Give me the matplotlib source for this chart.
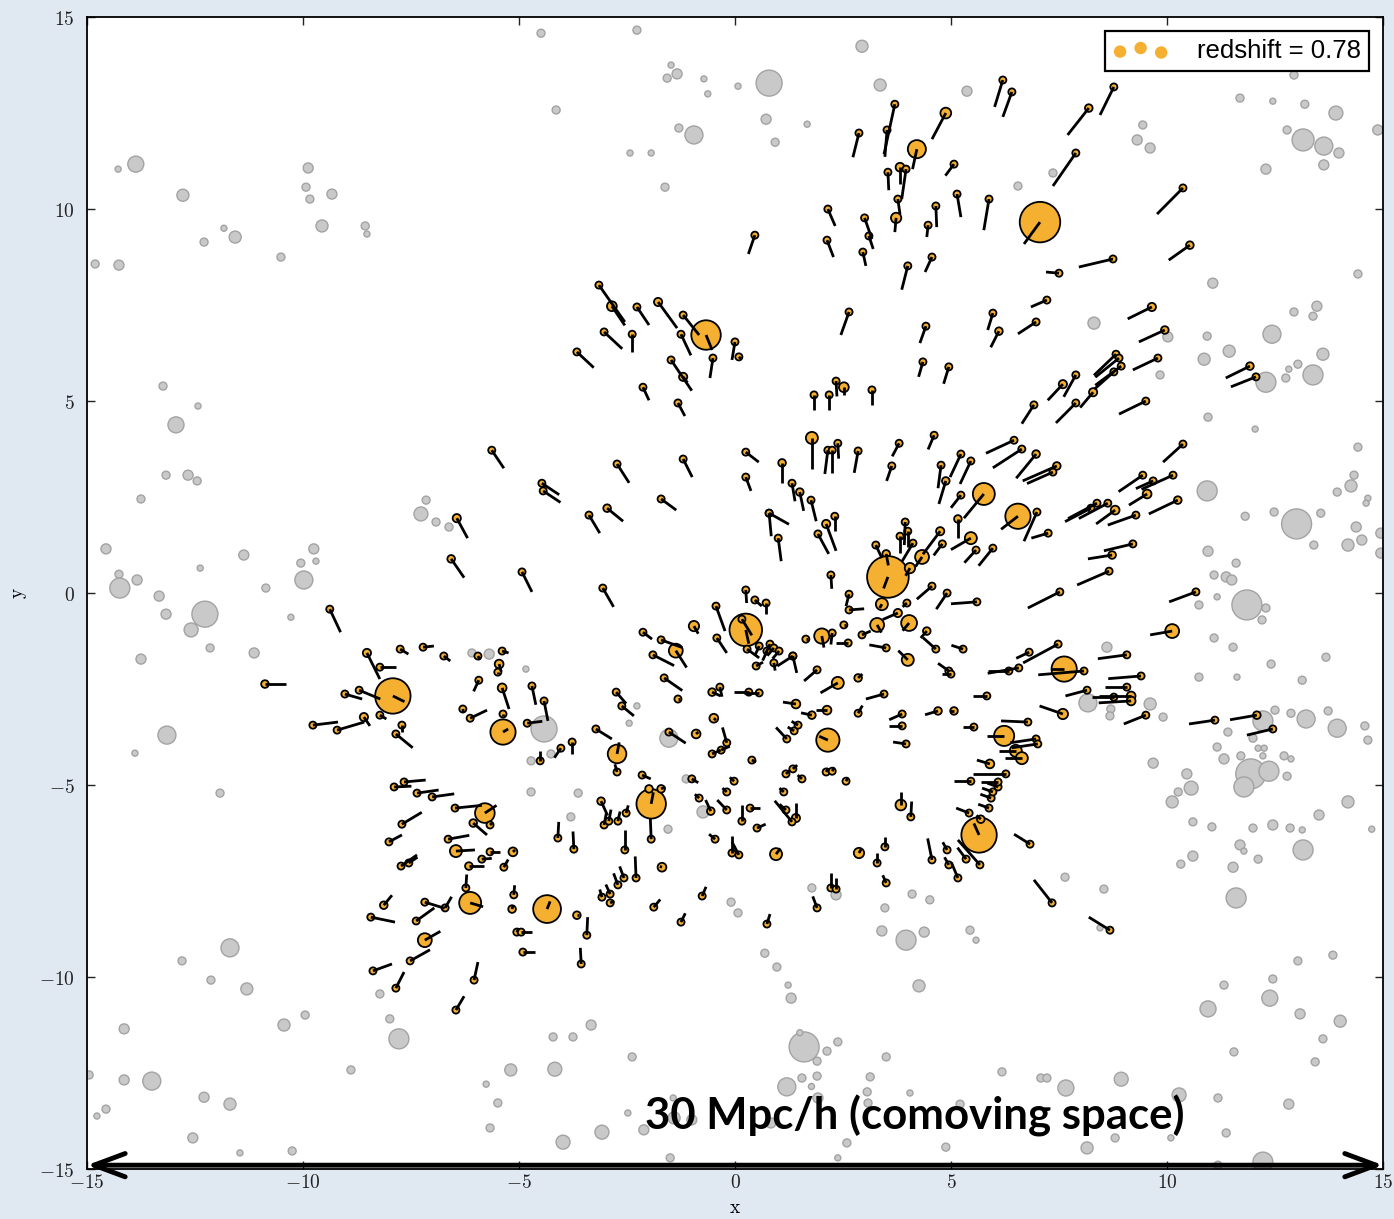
import matplotlib
matplotlib.use("Agg")
import matplotlib.pyplot as plt
from matplotlib.collections import LineCollection
from matplotlib.ticker import FuncFormatter, FixedLocator

# orange halos: (x, y, vx, vy, marker area) -- velocity drawn as a line from the halo
halos_north = [
    (3.70, 12.73, -0.25, -1.30, 18), (4.88, 12.50, -0.32, -0.68, 60), (2.87, 11.98, -0.14, -0.63, 18),
    (3.52, 12.06, -0.05, -0.70, 18), (4.21, 11.56, -0.10, -0.52, 170), (3.82, 11.09, 0.00, -0.44, 40),
    (3.54, 10.96, 0.02, -0.47, 18), (3.96, 11.04, -0.10, -0.78, 18), (3.77, 10.26, 0.05, -0.40, 18),
    (3.73, 9.77, -0.03, -0.37, 55), (4.65, 10.08, 0.02, -0.55, 18), (4.47, 9.58, -0.03, -0.31, 18),
    (4.56, 8.75, -0.16, -0.39, 18), (4.00, 8.52, -0.14, -0.62, 18), (4.42, 6.95, -0.14, -0.44, 18),
    (4.35, 6.02, -0.10, -0.39, 18), (4.95, 5.89, -0.12, -0.44, 18), (3.00, 9.77, 0.17, -0.55, 18),
    (3.10, 9.30, 0.10, -0.34, 18), (2.96, 8.88, 0.07, -0.36, 18), (2.15, 10.00, 0.17, -0.44, 18),
    (2.13, 9.19, 0.15, -0.44, 18), (0.46, 9.32, -0.15, -0.49, 18), (2.64, 7.32, -0.19, -0.60, 18),
    (2.52, 5.36, 0.00, -0.20, 50), (2.34, 5.52, 0.02, -0.40, 18), (1.83, 5.16, 0.00, -0.40, 18),
    (2.18, 5.16, 0.00, -0.40, 18), (3.17, 5.29, 0.00, -0.40, 18),
]

halos_northwest = [
    (-3.15, 8.02, 0.60, -0.96, 18), (-2.85, 7.47, 0.30, -0.50, 50), (-2.27, 7.45, 0.28, -0.47, 18),
    (-1.78, 7.58, 0.44, -0.68, 35), (-1.20, 7.24, 0.37, -0.52, 18), (-0.67, 6.72, 0.14, -0.39, 450),
    (-3.03, 6.80, 0.42, -0.44, 18), (-2.38, 6.74, 0.00, -0.47, 18), (-3.66, 6.28, 0.39, -0.41, 18),
    (-1.25, 6.74, 0.23, -0.55, 18), (-1.48, 6.07, 0.48, -0.80, 18), (-1.20, 5.63, 0.10, -0.15, 35),
    (-0.51, 6.12, -0.07, -0.52, 18), (0.00, 6.54, -0.07, -0.47, 18), (0.09, 6.15, 0.05, -0.05, 18),
    (-2.13, 5.36, 0.14, -0.34, 18),
]

halos_northeast = [
    (6.20, 13.36, -0.19, -0.70, 18), (6.41, 13.05, -0.21, -0.65, 18), (8.77, 13.18, -0.32, -0.73, 18),
    (8.19, 12.63, -0.49, -0.70, 30), (7.89, 11.46, -0.53, -0.86, 18), (5.07, 11.17, -0.20, -0.30, 18),
    (5.14, 10.39, 0.09, -0.60, 18), (5.88, 10.26, -0.12, -0.81, 18), (7.06, 9.66, -0.37, -0.57, 850),
    (10.37, 10.55, -0.60, -0.68, 18), (10.53, 9.06, -0.49, -0.39, 30), (8.75, 8.70, -0.79, -0.21, 18),
    (7.50, 8.33, -0.30, 0.03, 18), (7.22, 7.63, -0.37, -0.18, 18), (5.97, 7.29, -0.12, -0.44, 18),
    (6.11, 6.82, -0.19, -0.42, 30), (6.97, 7.06, -0.42, -0.31, 18), (9.65, 7.45, -0.56, -0.31, 35),
    (9.95, 6.85, -0.60, -0.31, 30), (9.79, 6.12, -0.58, -0.31, 18), (8.82, 6.22, -0.51, -0.55, 18),
    (8.89, 6.12, -0.55, -0.50, 18), (8.77, 5.76, -0.45, -0.45, 18), (8.94, 5.91, -0.60, -0.50, 18),
    (11.92, 5.91, -0.56, -0.31, 30), (12.06, 5.63, -0.58, -0.26, 18), (7.89, 5.68, -0.28, -0.57, 18),
    (7.59, 5.44, -0.35, -0.42, 35), (8.29, 5.23, -0.30, -0.40, 35),
]

halos_center = [
    (-1.32, 4.95, 0.16, -0.34, 18), (1.78, 4.04, 0.00, -0.81, 75), (2.15, 3.72, -0.07, -0.62, 18),
    (2.25, 3.72, 0.00, -0.60, 18), (2.38, 3.90, 0.02, -0.40, 18), (2.85, 3.70, -0.09, -0.57, 18),
    (3.80, 3.90, -0.16, -0.34, 18), (4.61, 4.11, -0.14, -0.37, 18), (3.63, 3.31, -0.12, -0.39, 18),
    (4.77, 3.33, -0.07, -0.60, 18), (4.88, 2.92, -0.16, -0.60, 30), (0.25, 3.67, 0.30, -0.26, 18),
    (1.09, 3.39, 0.00, -0.52, 30), (0.25, 3.02, 0.12, -0.36, 18), (1.32, 2.86, 0.07, -0.47, 18),
    (1.50, 2.63, 0.09, -0.49, 30), (1.76, 2.42, 0.12, -0.55, 18), (0.79, 2.08, 0.05, -0.60, 18),
    (0.79, 2.08, 0.46, -0.29, 18), (1.00, 1.43, 0.07, -0.60, 18), (2.11, 1.80, 0.23, -0.70, 35),
    (2.31, 2.00, 0.00, -0.39, 18), (1.92, 1.54, 0.25, -0.52, 18), (2.22, 0.47, 0.02, -0.36, 18),
    (3.94, 1.85, -0.02, -0.60, 18), (4.00, 1.61, 0.00, -0.40, 18), (3.82, 1.48, 0.00, -0.45, 18),
    (4.12, 1.30, -0.25, -0.47, 18), (3.26, 1.25, 0.14, -0.34, 18), (3.50, 1.02, 0.05, -0.30, 30),
    (3.54, 0.42, -0.10, -0.30, 900), (4.05, 0.65, -0.10, -0.20, 55), (4.33, 0.94, -0.15, -0.25, 100),
    (4.75, 1.61, -0.40, -0.60, 35), (4.80, 1.28, -0.20, -0.30, 18), (4.56, 0.18, -0.35, -0.34, 18),
    (4.91, 0.00, -0.25, -0.42, 18), (2.64, -0.03, -0.07, -0.31, 18), (2.64, -0.44, 0.35, 0.03, 18),
    (3.40, -0.29, -0.05, -0.10, 75), (3.77, -0.52, -0.35, -0.17, 35), (4.03, -0.78, -0.15, -0.20, 130),
    (3.29, -0.83, 0.10, -0.20, 100), (3.98, -0.26, -0.10, -0.10, 18), (4.44, -0.99, -0.14, -0.18, 30),
    (4.65, -1.46, -0.30, 0.30, 18), (4.95, -2.03, -0.25, 0.20, 18), (4.00, -1.74, -0.22, 0.24, 75),
    (3.50, -1.43, -0.39, 0.08, 18), (2.94, -1.09, 0.20, 0.10, 18), (2.52, -0.83, 0.05, 0.00, 18),
    (2.01, -1.12, 0.05, -0.30, 120), (2.25, -1.04, -0.03, -0.30, 18), (2.62, -1.30, -0.28, 0.00, 18),
    (1.64, -1.20, 0.05, 0.00, 18), (0.25, -0.96, 0.07, -0.36, 550), (0.16, -0.68, 0.23, -0.42, 18),
    (0.25, 0.08, 0.02, -0.34, 18), (0.46, -0.18, 0.16, -0.16, 18), (0.72, -0.26, 0.00, -0.29, 18),
    (-0.44, -0.34, 0.21, -0.65, 18), (-0.95, -0.86, 0.10, -0.20, 55), (-0.42, -1.17, 0.23, -0.39, 18),
    (0.28, -1.46, 0.28, -0.23, 18), (0.56, -1.38, -0.10, -0.25, 18), (0.81, -1.33, -0.10, -0.25, 18),
    (0.90, -1.43, -0.15, -0.20, 18), (1.02, -1.51, -0.15, -0.20, 18), (0.74, -1.51, -0.10, -0.25, 18),
    (0.49, -1.90, 0.16, 0.10, 18), (0.90, -1.82, 0.03, -0.20, 18), (1.34, -1.64, 0.09, -0.44, 18),
    (1.34, -1.64, -0.36, -0.26, 18), (1.90, -2.00, -0.30, -0.29, 18), (2.38, -2.34, -0.40, -0.26, 75),
    (2.85, -2.21, 0.10, 0.10, 30), (3.45, -2.63, -0.42, -0.13, 18), (-2.13, -1.02, 0.21, -0.18, 18),
    (-1.71, -1.22, 0.49, -0.20, 18), (-1.37, -1.50, 0.25, -0.44, 100), (-1.90, -1.61, 0.49, -0.28, 18),
    (-1.64, -2.21, 0.42, -0.33, 18), (-1.32, -2.76, 0.05, 0.00, 18), (-0.53, -2.58, 0.20, -0.10, 30),
    (-0.35, -2.45, 0.05, -0.25, 18), (0.32, -2.58, -0.35, 0.00, 18), (0.56, -2.60, -0.35, 0.00, 18),
    (-0.49, -3.26, 0.05, -0.05, 40), (-0.90, -3.67, 0.05, 0.05, 40), (-1.53, -3.62, 0.39, -0.29, 18),
    (-0.19, -3.90, -0.10, 0.40, 18), (-0.53, -4.19, 0.20, 0.10, 18), (-0.32, -4.09, 0.20, 0.10, 18),
    (0.39, -4.35, 0.10, -0.05, 18), (1.41, -2.89, -0.30, 0.05, 40), (1.78, -3.18, -0.25, 0.06, 30),
    (2.13, -3.05, -0.25, 0.00, 40), (1.20, -3.80, -0.25, 0.30, 18), (1.37, -3.59, -0.15, 0.10, 18),
    (1.46, -3.44, -0.15, 0.10, 18), (2.15, -3.83, -0.20, 0.10, 280), (2.85, -3.13, 0.10, 0.20, 18),
    (3.87, -3.15, -0.30, -0.15, 18), (3.87, -3.46, -0.30, 0.00, 18), (3.96, -3.93, -0.30, 0.05, 18),
    (4.70, -3.07, -0.30, -0.10, 30), (1.18, -4.71, 0.10, 0.10, 18), (1.34, -4.58, 0.10, 0.10, 18),
    (1.55, -4.84, -0.10, 0.10, 18), (2.11, -4.66, 0.05, 0.10, 18), (2.25, -4.64, 0.05, 0.10, 18),
    (2.57, -4.90, 0.05, 0.10, 18), (-0.02, -4.90, -0.10, 0.10, 18), (-1.00, -4.84, 0.15, -0.10, 18),
    (-2.15, -4.74, 0.20, -0.10, 18), (-2.73, 3.36, 0.28, -0.49, 18), (-1.20, 3.49, 0.21, -0.47, 18),
    (-4.47, 2.86, 0.40, -0.30, 18), (-4.44, 2.66, 0.40, -0.30, 18), (-2.96, 2.21, 0.37, -0.34, 30),
    (-3.38, 2.03, 0.25, -0.47, 18), (-1.71, 2.45, 0.35, -0.29, 18), (-4.93, 0.55, 0.23, -0.52, 18),
    (-3.06, 0.13, 0.25, -0.49, 18), (-4.70, -2.42, 0.09, -0.49, 18), (-4.42, -2.81, 0.09, -0.52, 18),
    (-4.81, -3.39, 0.35, 0.05, 18), (-2.75, -2.58, 0.23, -0.30, 18), (-2.62, -2.94, 0.28, -0.26, 18),
    (-3.22, -3.54, 0.37, -0.26, 18), (-2.73, -4.19, 0.05, 0.30, 180), (-3.77, -3.88, 0.00, -0.30, 18),
    (-4.03, -4.04, -0.15, -0.25, 18), (-4.51, -4.37, 0.00, 0.25, 18), (-2.73, -4.66, -0.05, 0.20, 18),
]

halos_west = [
    (-5.63, 3.72, 0.28, -0.47, 18), (-6.44, 1.95, 0.25, -0.52, 35), (-6.57, 0.89, 0.30, -0.49, 30),
    (-9.38, -0.42, 0.25, -0.60, 18), (-10.88, -2.37, 0.49, 0.00, 30), (-8.52, -1.56, 0.30, -0.68, 35),
    (-8.22, -1.93, 0.37, 0.00, 18), (-7.75, -1.46, 0.19, -0.13, 18), (-7.22, -1.41, 0.25, 0.03, 18),
    (-6.74, -1.64, 0.15, -0.13, 18), (-7.92, -2.68, 0.27, -0.15, 650), (-8.70, -2.53, 0.49, -0.23, 18),
    (-9.03, -2.63, 0.40, -0.13, 18), (-8.59, -3.23, 0.14, -0.23, 35), (-9.21, -3.57, 0.63, 0.21, 18),
    (-9.77, -3.44, 0.58, 0.08, 18), (-8.22, -3.18, 0.15, -0.10, 18), (-7.71, -3.44, 0.00, -0.18, 18),
    (-7.85, -3.67, 0.39, -0.36, 18), (-5.39, -1.51, 0.15, -0.05, 18), (-5.95, -1.64, 0.05, -0.10, 18),
    (-5.46, -1.85, 0.05, -0.20, 40), (-5.49, -2.06, 0.00, -0.05, 18), (-5.93, -2.27, -0.12, -0.29, 18),
    (-5.39, -2.47, 0.16, -0.55, 40), (-6.30, -3.02, 0.02, -0.10, 18), (-6.13, -3.26, 0.39, 0.21, 18),
    (-5.37, -3.15, 0.00, -0.05, 18), (-5.37, -3.62, 0.12, 0.08, 330), (-7.66, -4.92, 0.50, 0.05, 18),
]

halos_southwest = [
    (-7.36, -5.21, 0.50, 0.08, 18), (-7.01, -5.31, 0.51, 0.08, 18), (-7.89, -5.05, 0.40, 0.02, 18),
    (-6.48, -5.60, 0.62, 0.07, 18), (-5.79, -5.73, 0.27, 0.20, 200), (-6.06, -5.99, 0.32, -0.31, 30),
    (-5.67, -6.04, 0.05, 0.05, 18), (-7.71, -6.02, 0.46, 0.31, 18), (-6.64, -6.41, 0.49, 0.10, 18),
    (-8.01, -6.48, 0.30, 0.18, 18), (-6.46, -6.72, 0.44, 0.03, 75), (-5.67, -6.74, 0.23, 0.00, 18),
    (-5.86, -6.93, 0.23, 0.02, 18), (-5.14, -6.74, 0.05, 0.05, 40), (-6.16, -7.11, 0.35, 0.00, 30),
    (-5.35, -7.14, 0.10, 0.20, 18), (-7.73, -7.11, 0.37, 0.29, 18), (-7.55, -7.03, 0.20, 0.15, 18),
    (-6.23, -7.68, 0.02, 0.35, 18), (-6.13, -8.07, 0.30, -0.10, 250), (-5.12, -7.86, 0.02, 0.25, 18),
    (-5.16, -8.23, 0.02, 0.10, 30), (-7.18, -8.05, 0.46, -0.16, 18), (-6.71, -8.20, 0.15, 0.29, 18),
    (-8.13, -8.13, 0.19, 0.26, 30), (-8.43, -8.44, 0.56, -0.13, 18), (-7.38, -8.54, 0.42, 0.34, 18),
    (-7.18, -9.04, 0.36, 0.23, 100), (-7.52, -9.58, 0.46, 0.29, 18), (-8.38, -9.84, 0.44, 0.18, 18),
    (-7.85, -10.29, 0.19, 0.42, 18), (-6.04, -10.08, 0.09, 0.47, 18), (-6.46, -10.86, 0.19, 0.36, 18),
    (-5.05, -8.83, 0.05, 0.10, 18),
]

halos_south = [
    (-3.10, -5.42, 0.15, -0.37, 30), (-3.03, -6.04, 0.05, 0.30, 18), (-2.92, -5.94, 0.05, 0.30, 18),
    (-2.71, -5.94, 0.05, 0.25, 18), (-2.52, -5.73, 0.05, 0.20, 18), (-1.94, -5.49, 0.05, 0.30, 450),
    (-1.99, -5.10, 0.00, 0.00, 30), (-1.71, -5.10, 0.10, 0.05, 30), (-1.94, -6.41, -0.02, 0.55, 18),
    (-4.10, -6.38, 0.02, 0.42, 18), (-3.73, -6.67, -0.02, 0.46, 18), (-2.55, -6.69, 0.00, 0.52, 18),
    (-1.69, -7.14, -0.05, 0.02, 40), (-2.29, -7.42, -0.02, 0.56, 18), (-2.57, -7.42, -0.10, 0.30, 18),
    (-2.71, -7.60, -0.10, 0.30, 18), (-2.89, -7.84, -0.10, 0.25, 18), (-3.08, -7.92, -0.05, 0.20, 18),
    (-2.89, -8.07, 0.10, 0.05, 18), (-4.35, -8.23, 0.07, 0.20, 400), (-3.66, -8.39, 0.05, 0.00, 30),
    (-3.43, -8.91, 0.02, 0.47, 18), (-3.56, -9.66, -0.02, 0.42, 18), (-4.91, -9.35, 0.28, 0.00, 18),
    (-4.95, -8.83, 0.25, 0.00, 18), (-1.88, -8.18, 0.15, 0.20, 18), (-1.25, -8.57, 0.10, 0.23, 18),
    (-0.76, -7.89, 0.09, 0.24, 18), (0.74, -8.62, 0.07, 0.26, 18), (0.95, -6.80, 0.10, 0.15, 75),
    (0.09, -6.82, -0.16, 0.34, 18), (-0.07, -6.77, 0.00, 0.45, 18), (-0.46, -6.41, -0.14, 0.13, 18),
    (-0.56, -5.68, -0.12, 0.29, 30), (-0.83, -5.34, -0.10, 0.10, 18), (-0.19, -5.18, -0.10, 0.10, 18),
    (-0.19, -5.65, -0.22, 0.26, 18), (0.16, -5.94, 0.00, 0.43, 18), (0.35, -5.60, 0.23, 0.00, 18),
    (0.51, -6.12, 0.20, 0.10, 18), (1.13, -5.18, -0.10, 0.10, 18), (1.41, -5.86, 0.00, 0.40, 35),
    (1.32, -5.96, -0.40, 0.55, 18), (1.18, -5.65, -0.15, 0.15, 18), (2.87, -6.77, 0.05, 0.10, 55),
    (3.29, -7.03, 0.00, 0.25, 18), (3.47, -6.61, 0.00, 0.26, 18), (3.50, -7.55, -0.08, 0.20, 18),
    (2.22, -7.68, 0.00, 0.40, 18), (2.34, -7.71, 0.00, 0.30, 18), (1.90, -8.20, -0.10, 0.30, 18),
    (3.84, -5.52, 0.00, 0.35, 60), (4.07, -5.83, 0.02, 0.40, 18), (4.56, -6.95, -0.10, 0.56, 18),
    (4.91, -6.69, -0.10, 0.20, 18), (4.95, -7.08, -0.10, 0.20, 18),
]

halos_southeast = [
    (5.65, -6.30, -0.12, 0.30, 650), (5.69, -5.89, -0.10, 0.10, 30), (5.42, -5.73, -0.30, 0.13, 18),
    (5.88, -5.60, -0.25, 0.10, 18), (5.93, -5.34, -0.25, 0.10, 18), (5.97, -5.18, -0.25, 0.10, 18),
    (6.09, -5.05, -0.25, 0.10, 18), (6.83, -6.54, -0.37, 0.26, 18), (5.67, -7.08, -0.51, 0.65, 18),
    (5.35, -6.93, -0.20, 0.30, 18), (5.16, -7.42, -0.15, 0.40, 18), (7.34, -8.07, -0.42, 0.60, 18),
    (8.68, -8.78, -0.49, 0.34, 18),
]

halos_east = [
    (6.92, 4.90, -0.28, -0.49, 18), (7.89, 4.95, -0.46, -0.52, 18), (9.51, 5.00, -0.62, -0.34, 18),
    (6.46, 3.98, -0.65, -0.34, 18), (6.64, 3.75, -0.67, -0.49, 18), (6.97, 3.62, -0.46, -0.63, 30),
    (7.45, 3.31, -0.79, -0.39, 30), (7.36, 3.15, -0.60, -0.30, 18), (5.23, 3.62, -0.25, -0.60, 18),
    (5.46, 3.44, -0.25, -0.60, 18), (5.76, 2.58, -0.46, -0.63, 250), (6.55, 2.00, -0.39, -0.34, 330),
    (6.99, 2.11, -0.30, -0.76, 18), (7.25, 1.56, -0.39, -0.13, 18), (5.23, 2.55, -0.23, -0.33, 18),
    (5.16, 1.93, 0.00, -0.50, 30), (5.46, 1.43, -0.46, -0.30, 75), (5.58, 1.12, -0.27, -0.33, 18),
    (5.97, 1.17, -0.33, -0.46, 18), (9.44, 3.07, -0.56, -0.43, 18), (10.14, 3.07, -0.73, -0.37, 18),
    (9.68, 2.92, -0.40, -0.20, 18), (9.54, 2.58, -0.42, -0.29, 40), (10.37, 3.88, -0.46, -0.47, 18),
    (10.25, 2.42, -0.67, -0.36, 30), (8.38, 2.34, -0.67, -0.40, 18), (8.63, 2.34, -0.67, -0.40, 18),
    (8.24, 2.21, -0.60, -0.35, 18), (8.80, 2.16, -0.44, -0.36, 40), (9.28, 2.03, -0.65, -0.26, 18),
    (9.21, 1.28, -0.67, -0.18, 18), (8.73, 0.99, -0.56, -0.10, 30), (8.66, 0.57, -0.74, -0.36, 18),
    (7.52, 0.03, -0.74, -0.42, 18), (5.60, -0.23, -0.60, -0.05, 18), (10.67, 0.03, -0.62, -0.26, 18),
    (10.12, -0.99, -0.51, -0.10, 100), (5.28, -1.46, -0.27, 0.10, 18), (7.48, -1.33, -0.81, -0.49, 18),
    (6.81, -1.54, -0.30, -0.16, 18), (7.62, -1.98, -0.30, 0.00, 330), (8.08, -2.03, -1.06, -0.10, 18),
    (9.07, -1.61, -0.67, -0.10, 18), (9.40, -2.16, -0.76, -0.07, 18), (9.07, -2.45, -0.51, 0.00, 18),
    (9.17, -2.68, -0.75, 0.00, 40), (9.17, -2.81, -0.75, -0.05, 40), (8.77, -2.71, -0.50, 0.00, 18),
    (8.15, -2.53, -0.50, -0.15, 18), (6.57, -1.95, -0.72, -0.14, 18), (6.34, -2.03, -0.49, 0.00, 18),
    (5.00, -2.11, -0.20, 0.00, 18), (5.83, -2.68, -0.33, 0.00, 18), (7.59, -3.15, -0.54, 0.21, 55),
    (9.51, -3.18, -0.51, -0.23, 18), (5.07, -3.07, -0.10, 0.00, 30), (6.78, -3.36, -0.62, 0.03, 18),
    (5.53, -3.49, -0.26, 0.00, 18), (6.23, -3.72, -0.40, 0.00, 210), (6.97, -3.80, -0.60, -0.10, 18),
    (7.01, -3.93, -0.60, -0.10, 18), (6.50, -4.11, -0.40, 0.00, 75), (6.64, -4.30, -0.40, 0.00, 75),
    (5.90, -4.45, -0.30, 0.10, 40), (6.27, -4.71, -0.77, 0.00, 18), (5.46, -4.90, -0.40, 0.00, 18),
    (6.09, -4.92, -0.40, 0.00, 18), (11.11, -3.31, -0.60, -0.10, 18), (12.08, -3.18, -0.62, -0.12, 30),
    (12.45, -3.54, -0.60, -0.16, 18),
]

# grey field halos: (x, y, marker area)
field_north = [
    (-14.28, 11.04, 19), (-13.87, 11.17, 133), (-12.78, 10.36, 75), (-11.83, 9.50, 19), (-11.57, 9.27, 75),
    (-12.29, 9.14, 33), (-14.81, 8.57, 33), (-14.26, 8.54, 52), (-10.51, 8.75, 33), (-9.88, 11.07, 52),
    (-9.93, 10.57, 33), (-9.84, 10.26, 33), (-9.33, 10.39, 52), (-9.56, 9.56, 75), (-8.56, 9.56, 33),
    (-8.52, 9.35, 19), (-13.24, 5.39, 33),
    (-4.49, 14.58, 33), (-2.27, 14.66, 33), (-1.48, 13.75, 19), (-1.34, 13.52, 52), (-1.57, 13.41, 33),
    (-0.72, 13.39, 19), (-0.63, 13.00, 19), (0.07, 13.20, 19), (0.79, 13.28, 350), (2.94, 14.24, 75),
    (3.36, 13.23, 75), (-4.14, 12.58, 33), (-1.30, 12.11, 33), (-0.95, 11.93, 168), (0.72, 12.34, 52),
    (1.67, 12.21, 19), (0.93, 11.74, 33), (-2.43, 11.46, 19), (-1.94, 11.46, 19), (-1.62, 10.57, 33),
    (5.37, 13.07, 52), (7.36, 10.94, 33), (6.55, 10.60, 33), (9.44, 12.19, 33), (9.31, 11.80, 52),
    (9.61, 11.59, 52), (11.69, 12.89, 33), (12.45, 12.81, 19), (13.19, 12.73, 33), (13.91, 12.50, 101),
    (12.78, 12.06, 33), (13.15, 11.80, 250), (13.63, 11.64, 168), (13.98, 11.46, 52), (13.63, 11.15, 52),
    (12.29, 11.04, 52), (14.88, 12.06, 52), (12.94, 13.49, 33), (11.06, 8.07, 52), (14.42, 8.31, 33),
    (13.47, 7.47, 52), (12.94, 7.32, 33), (13.38, 7.21, 33), (8.31, 7.03, 75), (10.02, 6.67, 52),
    (10.93, 6.69, 33), (12.43, 6.74, 168), (11.44, 6.30, 75), (10.86, 6.09, 75), (13.61, 6.22, 75),
    (13.03, 5.96, 33), (12.82, 5.83, 19), (12.75, 5.60, 33), (13.38, 5.68, 207), (9.84, 5.68, 33),
    (12.29, 5.49, 207),
]

field_middle = [
    (-12.43, 4.87, 19), (-12.94, 4.38, 133), (-13.17, 3.07, 33), (-12.66, 3.07, 52), (-12.45, 2.92, 33),
    (-13.75, 2.45, 33), (-14.56, 1.15, 52), (-14.26, 0.49, 33), (-14.24, 0.13, 207), (-13.84, 0.34, 52),
    (-13.33, -0.08, 52), (-12.38, 0.65, 19), (-13.17, -0.55, 52), (-12.27, -0.55, 350), (-12.59, -0.96, 101),
    (-12.15, -1.43, 33), (-13.75, -1.72, 52), (-13.15, -3.70, 168), (-13.89, -4.17, 19), (-11.37, 0.99, 52),
    (-10.86, 0.13, 33), (-11.13, -1.56, 52), (-10.28, -0.63, 19), (-9.98, 0.34, 168), (-10.05, 0.78, 33),
    (-9.75, 1.15, 52), (-9.70, 0.83, 19), (-7.15, 2.42, 33), (-7.27, 2.06, 101), (-6.92, 1.85, 33),
    (-6.62, 1.72, 33), (-6.09, -1.56, 33), (-5.69, -1.59, 52),
    (-4.84, -1.98, 19), (-4.42, -3.54, 350), (-2.27, -2.94, 19), (-2.45, -3.39, 19), (-1.53, -3.78, 168),
    (-4.26, -4.19, 33), (-4.72, -4.37, 33), (-1.13, -4.84, 33),
    (10.95, 4.58, 33), (12.04, 4.27, 19), (14.42, 3.80, 33), (10.93, 2.66, 207), (14.33, 3.07, 33),
    (14.26, 2.79, 75), (13.94, 2.63, 33), (14.65, 2.47, 19), (14.61, 2.34, 19), (11.81, 2.00, 33),
    (12.48, 2.11, 33), (13.56, 2.08, 33), (13.00, 1.80, 466), (14.38, 1.72, 52), (13.40, 1.25, 33),
    (14.19, 1.25, 75), (14.51, 1.38, 52), (14.95, 1.56, 52), (14.95, 1.04, 52), (10.95, 1.09, 52),
    (11.60, 0.78, 33), (11.09, 0.47, 33), (11.37, 0.42, 52), (11.50, 0.34, 52), (11.16, -0.10, 19),
    (10.74, -0.31, 33), (11.85, -0.31, 466), (12.29, -0.39, 33), (12.20, -0.70, 33), (11.09, -1.17, 33),
    (11.53, -1.41, 33), (8.61, -1.41, 52), (12.41, -1.85, 33), (13.68, -1.67, 33), (10.74, -2.19, 33),
    (11.62, -2.19, 19), (13.13, -2.27, 33), (8.17, -2.86, 168), (9.61, -2.89, 75), (8.70, -3.02, 33),
    (8.68, -3.20, 33), (9.91, -3.23, 33), (12.22, -3.33, 207), (12.50, -3.05, 33), (12.87, -3.13, 33),
    (13.22, -3.28, 168), (13.73, -3.07, 33), (13.94, -3.52, 168), (14.58, -3.46, 33), (14.65, -3.83, 33),
    (11.41, -3.62, 33), (11.99, -3.78, 33), (11.94, -4.71, 466), (12.36, -4.64, 207), (12.11, -4.04, 19),
    (12.25, -4.04, 19), (12.22, -4.24, 19), (11.32, -4.32, 52), (11.71, -4.24, 33), (12.71, -4.24, 33),
    (12.87, -4.32, 19), (9.68, -4.43, 52), (10.46, -4.71, 52), (11.16, -4.01, 33), (12.78, -4.77, 33),
]

field_south = [
    (-11.92, -5.21, 33), (-11.69, -9.24, 168), (-12.80, -9.58, 33), (-12.13, -10.08, 33), (-11.30, -10.31, 75),
    (-9.95, -10.99, 33), (-10.44, -11.25, 75), (-14.14, -11.35, 52), (-8.22, -10.44, 33), (-7.99, -11.09, 33),
    (-7.78, -11.61, 207), (-8.89, -12.42, 33), (-5.19, -12.42, 75), (-5.76, -12.79, 19), (-5.49, -13.28, 33),
    (-5.67, -13.93, 33), (-13.50, -12.71, 168), (-14.14, -12.68, 52), (-12.29, -13.13, 52), (-11.69, -13.31, 75),
    (-14.56, -13.44, 33), (-14.77, -13.62, 19), (-12.55, -14.19, 52), (-11.46, -14.58, 19), (-10.25, -14.53, 33),
    (-14.95, -12.55, 33),
    (-4.72, -5.18, 33), (-3.63, -5.21, 33), (-3.80, -5.83, 33), (-1.55, -6.15, 33), (-0.74, -5.70, 75),
    (-0.09, -8.05, 33), (0.07, -8.33, 33), (1.78, -7.68, 33), (2.34, -7.86, 52), (0.69, -9.38, 33),
    (0.97, -9.74, 33), (1.23, -10.21, 19), (1.30, -10.55, 52), (4.10, -7.84, 33), (4.51, -7.99, 33),
    (3.47, -8.20, 33), (3.40, -8.80, 52), (4.38, -8.83, 52), (3.96, -9.04, 207), (4.26, -10.23, 75),
    (-3.33, -11.25, 52), (-4.21, -11.56, 33), (-3.75, -11.56, 33), (-4.17, -12.40, 101), (-2.38, -12.08, 33),
    (1.60, -11.82, 466), (1.50, -11.45, 19), (2.13, -11.93, 33), (2.38, -11.69, 33), (1.90, -12.19, 33),
    (1.90, -12.58, 33), (1.55, -12.63, 33), (1.77, -12.85, 19), (1.20, -12.86, 168), (1.92, -13.15, 52),
    (3.50, -12.08, 33), (3.13, -12.60, 33), (3.06, -12.99, 33), (3.08, -13.28, 33), (4.05, -13.02, 19),
    (-1.43, -13.15, 19), (-1.41, -13.67, 75), (-1.00, -13.72, 52), (-2.11, -13.98, 52), (-3.08, -14.04, 101),
    (-3.98, -14.30, 101), (-2.48, -13.54, 19), (-1.50, -14.71, 33), (0.83, -13.80, 52), (2.59, -14.32, 33),
    (2.38, -14.71, 19), (4.88, -14.43, 33),
    (10.56, -5.08, 101), (10.12, -5.44, 75), (10.26, -5.18, 33), (11.78, -5.05, 207), (14.19, -5.44, 75),
    (13.52, -5.78, 52), (10.60, -5.96, 33), (11.04, -6.09, 33), (11.99, -6.12, 33), (12.45, -6.04, 52),
    (12.85, -6.12, 33), (13.13, -6.17, 19), (14.74, -6.15, 19), (11.69, -6.56, 52), (11.78, -6.72, 19),
    (13.15, -6.69, 207), (10.60, -6.85, 52), (10.32, -7.06, 33), (11.53, -7.14, 52), (12.11, -6.93, 33),
    (11.60, -7.94, 207), (7.64, -7.40, 33), (8.54, -7.71, 33), (5.44, -8.78, 33), (5.58, -9.04, 19),
    (8.45, -8.72, 19), (13.03, -9.58, 33), (13.84, -9.43, 33), (12.45, -10.05, 33), (11.32, -10.21, 33),
    (12.38, -10.55, 133), (10.95, -10.83, 133), (13.08, -10.96, 52), (14.01, -11.15, 75), (13.61, -11.61, 33),
    (11.55, -11.95, 33), (13.43, -12.21, 33), (6.18, -12.47, 33), (7.08, -12.63, 33), (7.22, -12.63, 33),
    (7.66, -12.89, 133), (8.94, -12.66, 101), (10.28, -13.07, 101), (11.18, -13.15, 33), (12.82, -13.31, 52),
    (11.37, -14.06, 33), (5.21, -13.31, 33), (8.80, -14.19, 33), (10.09, -14.19, 19), (8.15, -14.45, 75),
    (12.22, -14.82, 207), (11.18, -14.90, 33),
]

redshift = 0.78
box_size = 30  # Mpc/h
ticks = [-15, -10, -5, 0, 5, 10, 15]

ORANGE = '#f5b032'

plt.rcParams['mathtext.fontset'] = 'cm'

fig = plt.figure(figsize=(13.94, 12.19), dpi=100, facecolor='#e0e8f2')
ax = fig.add_axes([0.0624, 0.041, 0.9297, 0.945])
ax.set_facecolor('white')

# grey background halos
field = field_north + field_middle + field_south
ax.scatter([f[0] for f in field], [f[1] for f in field], s=[f[2] for f in field],
           c='#c9c9c9', edgecolors='#a3a3a3', linewidths=1, zorder=1)

# orange halos with their velocity sticks; the smallest ones are drawn a touch larger
halos = (halos_north + halos_northwest + halos_northeast + halos_center + halos_west
         + halos_southwest + halos_south + halos_southeast + halos_east)
hx = [h[0] for h in halos]
hy = [h[1] for h in halos]
hs = [max(h[4], 26) for h in halos]
ax.scatter(hx, hy, s=hs, c=ORANGE, edgecolors='black', linewidths=1.3, zorder=2)
segs = [[(h[0], h[1]), (h[0] + h[2], h[1] + h[3])] for h in halos]
ax.add_collection(LineCollection(segs, colors='black', linewidths=2.0, zorder=3))

# legend proxy
ax.scatter([], [], s=80, c=ORANGE, edgecolors='none', label=f'redshift = {redshift}')
leg = ax.legend(loc='upper right', scatterpoints=3, scatteryoffsets=[0.35, 0.55, 0.3],
                prop={'family': 'Liberation Sans', 'size': 18.5}, fancybox=False,
                edgecolor='black', framealpha=1, borderpad=0.3, handletextpad=1.1,
                handlelength=2.2, borderaxespad=0.55)
leg.get_frame().set_linewidth(1.6)

ax.set_xlim(-15, 15)
ax.set_ylim(-15, 15)
ax.xaxis.set_major_locator(FixedLocator(ticks))
ax.yaxis.set_major_locator(FixedLocator(ticks))
fmt = FuncFormatter(lambda v, p: r'$%d$' % v)
ax.xaxis.set_major_formatter(fmt)
ax.yaxis.set_major_formatter(fmt)
ax.tick_params(direction='in', length=6, width=1, top=True, right=True, labelsize=14, colors='#222222')
ax.tick_params(axis='y', pad=9)
ax.tick_params(axis='x', pad=3)
for sp in ax.spines.values():
    sp.set_linewidth(1.3)
ax.set_xlabel(r'$\mathrm{x}$', fontsize=14, labelpad=4)
ax.set_ylabel(r'$\mathrm{y}$', fontsize=14, labelpad=7)

# scale bar across the full box
ax.annotate('', xy=(-15, -14.9), xytext=(15, -14.9),
            arrowprops=dict(arrowstyle='<->,head_length=0.75,head_width=0.28', lw=3.5,
                            color='black', shrinkA=0, shrinkB=0, mutation_scale=30),
            annotation_clip=False, zorder=10)
ax.text(4.17, -13.62, f'{box_size} Mpc/h (comoving space)', ha='center', va='center',
        fontsize=31.5, fontweight='bold', family='Lato', zorder=10)

fig.savefig('out.png', dpi=100, facecolor=fig.get_facecolor())
